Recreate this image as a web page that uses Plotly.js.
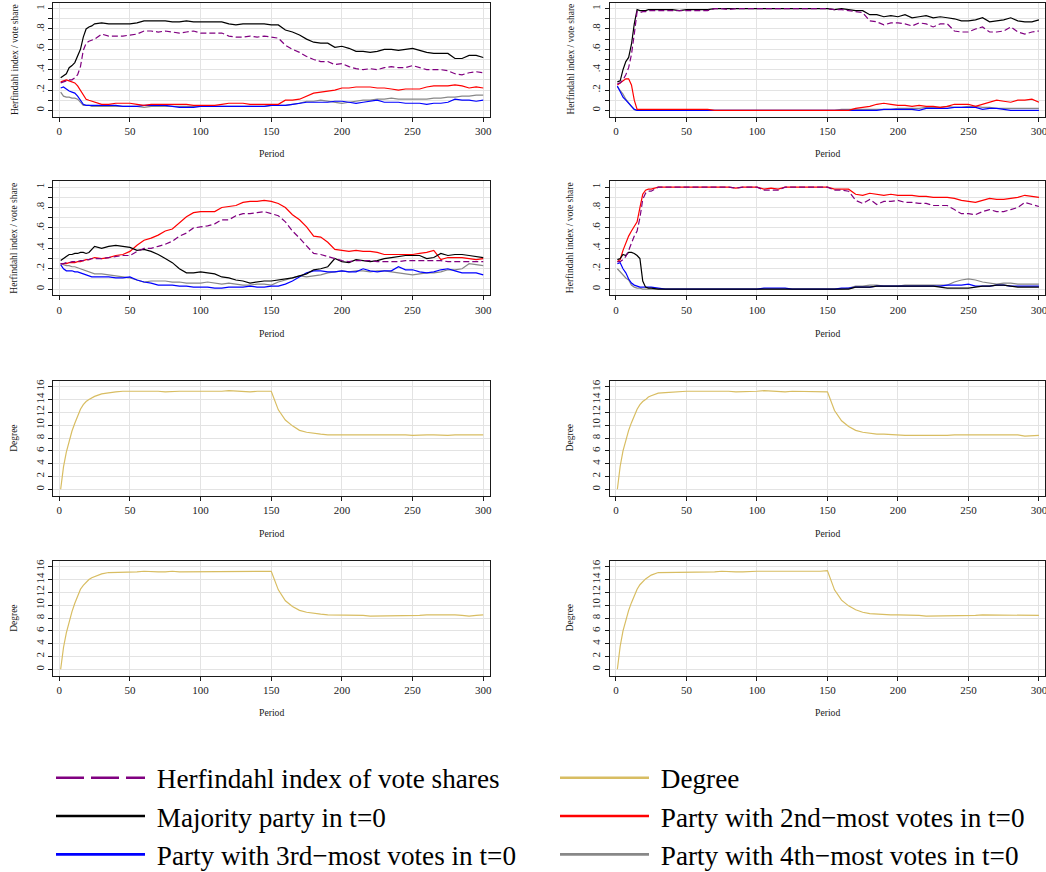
<!DOCTYPE html>
<html>
<head>
<meta charset="utf-8">
<script src="https://cdn.plot.ly/plotly-3.0.1.min.js"></script>
<style>html,body{margin:0;padding:0;background:#fff;}</style>
</head>
<body>
<div id="chart" style="width:1046px;height:872px;"></div>
<script>
// Simulation periods at which the series are recorded
const periods = [1,3,5,7,9,11,13,15,17,19,21,23,25,
  30,35,40,45,50,55,60,65,70,75,
  80,85,90,95,100,105,110,115,120,125,
  130,135,140,145,150,155,160,165,170,175,
  180,185,190,195,200,205,210,215,220,225,
  230,235,240,245,250,255,260,265,270,275,
  280,285,290,295,300];

// Run A: vote shares and Herfindahl index
const runA_herf = [.27,.28,.29,.30,.30,.32,.35,.43,.59,.66,.68,.69,.70,
  .75,.73,.73,.73,.74,.75,.78,.78,.77,.78,
  .77,.76,.77,.78,.76,.76,.76,.76,.73,.72,
  .72,.73,.72,.73,.72,.71,.64,.60,.57,.53,
  .50,.48,.48,.45,.46,.43,.41,.40,.41,.40,
  .42,.43,.42,.42,.44,.42,.40,.40,.40,.39,
  .36,.35,.37,.38,.37];
const runA_first = [.32,.34,.36,.42,.44,.47,.53,.60,.72,.80,.82,.83,.85,
  .86,.85,.85,.85,.85,.86,.88,.88,.88,.88,
  .87,.87,.88,.87,.87,.87,.87,.87,.85,.84,
  .85,.85,.85,.85,.84,.84,.79,.77,.74,.70,
  .67,.66,.66,.62,.63,.61,.58,.58,.57,.58,
  .60,.60,.59,.60,.61,.59,.57,.56,.56,.56,
  .51,.51,.54,.54,.52];
const runA_second = [.28,.29,.30,.29,.28,.27,.24,.20,.15,.11,.10,.09,.08,
  .06,.06,.07,.07,.07,.06,.05,.06,.06,.06,
  .06,.06,.06,.05,.05,.05,.05,.06,.07,.07,
  .07,.06,.06,.06,.06,.06,.10,.10,.11,.14,
  .17,.18,.19,.20,.22,.22,.23,.23,.23,.22,
  .22,.21,.20,.21,.21,.21,.23,.24,.24,.24,
  .25,.24,.22,.23,.22];
const runA_third = [.22,.23,.21,.19,.18,.17,.14,.10,.06,.05,.05,.05,.05,
  .05,.05,.05,.04,.04,.04,.05,.05,.05,.05,
  .04,.03,.03,.03,.04,.04,.04,.04,.04,.04,
  .04,.04,.04,.04,.05,.05,.05,.06,.07,.08,
  .08,.08,.08,.09,.09,.08,.07,.08,.09,.10,
  .08,.08,.08,.07,.07,.07,.06,.07,.07,.08,
  .11,.10,.10,.09,.10];
const runA_fourth = [.18,.14,.13,.13,.12,.12,.11,.08,.05,.05,.05,.04,.04,
  .04,.04,.04,.04,.04,.04,.03,.04,.04,.04,
  .04,.04,.04,.04,.04,.04,.04,.04,.04,.04,
  .04,.04,.04,.04,.05,.05,.05,.06,.07,.09,
  .09,.10,.09,.08,.07,.08,.09,.10,.10,.11,
  .11,.12,.11,.11,.11,.11,.11,.12,.12,.13,
  .13,.14,.14,.15,.15];

// Run B
const runB_herf = [.26,.27,.30,.35,.42,.55,.75,.97,.96,.97,.97,.98,.98,
  .98,.98,.98,.98,.98,.98,.98,.98,1.0,1.0,
  .99,1.0,1.0,1.0,1.0,1.0,1.0,1.0,1.0,1.0,
  1.0,1.0,1.0,1.0,1.0,.99,.99,.98,.97,.96,
  .88,.87,.84,.86,.86,.85,.83,.86,.85,.82,
  .85,.85,.78,.77,.77,.80,.82,.77,.77,.78,
  .82,.77,.75,.77,.78];
const runB_first = [.28,.29,.40,.48,.52,.65,.85,.99,.98,.98,.98,.99,.99,
  .99,.99,.99,.98,.99,.99,.99,.99,1.0,1.0,
  1.0,1.0,1.0,1.0,1.0,1.0,1.0,1.0,1.0,1.0,
  1.0,1.0,1.0,1.0,1.0,.99,1.0,.99,.98,.98,
  .94,.94,.92,.93,.92,.94,.91,.92,.93,.91,
  .92,.91,.90,.88,.88,.89,.91,.87,.88,.89,
  .91,.88,.87,.87,.89];
const runB_second = [.25,.27,.29,.31,.31,.25,.10,.01,.01,.01,.01,.01,.01,
  .01,.01,.01,.01,.01,.01,.01,.01,0,0,
  0,0,0,0,0,0,0,0,0,0,
  0,0,0,0,0,0,0,0,.02,.03,
  .04,.06,.07,.06,.05,.05,.04,.05,.04,.04,
  .03,.04,.06,.06,.06,.04,.06,.08,.10,.09,
  .08,.10,.10,.11,.08];
const runB_third = [.24,.19,.13,.10,.07,.04,.01,0,0,0,0,0,0,
  0,0,0,0,0,0,0,0,0,0,
  0,0,0,0,0,0,0,0,0,0,
  0,0,0,0,0,0,0,0,0,0,
  0,0,.01,.01,.01,.01,.01,0,.02,.02,
  .02,.02,.03,.03,.03,.03,.01,.02,.02,.01,
  0,0,0,0,0];
const runB_fourth = [.23,.20,.16,.11,.07,.04,.01,0,0,0,0,0,0,
  0,0,0,0,0,0,0,0,0,0,
  0,0,0,0,0,0,0,0,0,0,
  0,0,0,0,0,0,.01,.01,.01,.01,
  .01,.01,.01,.01,.02,.02,.02,.02,.03,.03,
  .03,.04,.03,.03,.04,.04,.03,.03,.02,.02,
  .02,.02,.02,.02,.02];

// Run C
const runC_herf = [.25,.25,.26,.26,.27,.27,.27,.28,.28,.29,.29,.30,.30,
  .30,.31,.32,.33,.33,.37,.40,.40,.42,.44,
  .47,.52,.55,.60,.61,.62,.64,.68,.68,.72,
  .74,.74,.75,.76,.74,.72,.66,.57,.50,.43,
  .35,.34,.32,.30,.28,.27,.28,.28,.28,.27,
  .27,.27,.27,.28,.28,.28,.28,.28,.28,.27,
  .27,.27,.27,.27,.27];
const runC_first = [.28,.30,.32,.34,.34,.35,.35,.36,.36,.35,.36,.39,.42,
  .40,.42,.43,.42,.41,.38,.39,.37,.34,.30,
  .26,.20,.16,.16,.17,.16,.15,.12,.11,.09,
  .08,.06,.07,.08,.08,.09,.10,.11,.13,.15,
  .19,.20,.22,.30,.27,.26,.29,.28,.27,.28,
  .30,.31,.32,.33,.33,.33,.30,.31,.35,.33,
  .34,.34,.33,.32,.31];
const runC_second = [.25,.25,.25,.26,.26,.26,.27,.27,.28,.29,.29,.30,.31,
  .30,.31,.33,.34,.37,.43,.48,.50,.53,.57,
  .59,.65,.71,.75,.76,.76,.76,.80,.81,.82,
  .85,.86,.86,.87,.86,.84,.80,.73,.68,.61,
  .52,.51,.46,.39,.38,.37,.38,.37,.37,.36,
  .34,.34,.34,.34,.34,.35,.36,.38,.29,.31,
  .31,.31,.30,.29,.30];
const runC_third = [.24,.20,.18,.18,.18,.17,.17,.16,.15,.14,.13,.12,.12,
  .12,.12,.11,.11,.12,.09,.07,.06,.04,.04,
  .04,.03,.03,.02,.02,.02,.01,.01,.02,.02,
  .02,.03,.02,.02,.03,.03,.05,.08,.12,.16,
  .18,.18,.17,.17,.18,.17,.17,.20,.18,.17,
  .18,.18,.22,.19,.19,.17,.16,.17,.19,.20,
  .18,.16,.16,.16,.14];
const runC_fourth = [.25,.24,.23,.23,.22,.22,.21,.20,.19,.18,.17,.16,.15,
  .15,.14,.13,.12,.11,.09,.07,.08,.08,.08,
  .07,.07,.06,.06,.06,.07,.06,.05,.06,.05,
  .04,.04,.05,.05,.04,.07,.09,.11,.13,.12,
  .13,.14,.16,.17,.18,.17,.18,.18,.17,.18,
  .18,.17,.16,.15,.14,.15,.16,.16,.17,.19,
  .19,.20,.25,.24,.23];

// Run D
const runD_herf = [.27,.27,.29,.32,.38,.45,.52,.57,.70,.88,.94,.96,.96,
  1.0,1.0,1.0,1.0,1.0,1.0,1.0,1.0,1.0,1.0,
  1.0,.99,1.0,1.0,1.0,.97,.97,.97,1.0,1.0,
  1.0,1.0,1.0,1.0,1.0,.97,.97,.96,.87,.84,
  .88,.83,.86,.86,.87,.85,.85,.84,.84,.82,
  .82,.82,.78,.74,.74,.73,.76,.78,.76,.76,
  .78,.80,.85,.83,.81];
const runD_first = [.29,.30,.34,.33,.36,.36,.35,.33,.30,.08,.02,.01,.01,
  0,0,0,0,0,0,0,0,0,0,
  0,0,0,0,0,0,0,0,0,0,
  0,0,0,0,0,0,0,0,.02,.02,
  .02,.03,.03,.03,.03,.03,.03,.03,.03,.03,
  .02,.01,.01,.01,.01,.02,.03,.03,.04,.04,
  .03,.02,.02,.02,.02];
const runD_second = [.27,.29,.38,.45,.52,.57,.61,.66,.80,.93,.97,.98,.98,
  1.0,1.0,1.0,1.0,1.0,1.0,1.0,1.0,1.0,1.0,
  1.0,.99,1.0,1.0,1.0,.98,.99,.98,1.0,1.0,
  1.0,1.0,1.0,1.0,1.0,.98,.98,.98,.93,.92,
  .94,.93,.92,.93,.92,.92,.92,.91,.91,.90,
  .90,.90,.89,.87,.86,.85,.87,.89,.88,.88,
  .89,.90,.92,.91,.90];
const runD_third = [.25,.26,.20,.16,.10,.06,.04,.03,.02,.02,.02,.02,.02,
  .01,0,0,0,0,0,0,0,0,0,
  0,0,0,0,0,.01,.01,.01,.01,0,
  0,0,0,0,0,0,.01,.01,.02,.02,
  .02,.03,.03,.03,.03,.03,.03,.03,.03,.03,
  .03,.04,.04,.04,.05,.03,.03,.03,.04,.04,
  .03,.03,.03,.03,.03];
const runD_fourth = [.20,.17,.13,.11,.09,.04,.02,.01,.01,0,0,0,0,
  0,0,0,0,0,0,0,0,0,0,
  0,0,0,0,0,0,0,0,0,0,
  0,0,0,0,0,0,0,.01,.03,.03,
  .04,.04,.03,.03,.03,.04,.04,.04,.04,.04,
  .04,.04,.07,.09,.10,.09,.07,.06,.05,.06,
  .06,.05,.05,.05,.05];

// Average network degree, one series per run
const degreeA = [0,3.5,5.8,7.7,9.1,10.3,11.5,12.5,13.2,13.7,14.0,14.3,14.5,
  14.9,15.1,15.2,15.3,15.3,15.3,15.4,15.4,15.3,15.2,
  15.3,15.3,15.3,15.3,15.2,15.3,15.3,15.3,15.4,15.3,
  15.2,15.2,15.3,15.3,15.3,12.4,10.8,9.9,9.2,8.9,
  8.7,8.6,8.5,8.5,8.5,8.5,8.5,8.5,8.6,8.5,
  8.5,8.5,8.5,8.5,8.4,8.5,8.5,8.5,8.4,8.4,
  8.5,8.5,8.5,8.5,8.5];
const degreeB = [0,3.6,6.0,7.8,9.2,10.4,11.6,12.5,13.2,13.7,14.0,14.4,14.6,
  15.0,15.1,15.2,15.2,15.3,15.3,15.3,15.3,15.4,15.3,
  15.3,15.2,15.2,15.3,15.3,15.4,15.3,15.3,15.2,15.3,
  15.3,15.3,15.3,15.3,15.2,12.3,10.7,9.8,9.2,8.9,
  8.7,8.6,8.6,8.5,8.5,8.4,8.4,8.4,8.3,8.4,
  8.4,8.4,8.5,8.5,8.4,8.4,8.4,8.4,8.4,8.4,
  8.4,8.5,8.3,8.3,8.4];
const degreeC = [0,3.4,5.7,7.6,9.0,10.3,11.5,12.5,13.1,13.6,14.0,14.3,14.5,
  14.9,15.1,15.1,15.2,15.2,15.2,15.3,15.2,15.2,15.2,
  15.3,15.2,15.2,15.2,15.2,15.2,15.2,15.3,15.2,15.2,
  15.2,15.3,15.3,15.3,15.3,12.4,10.7,9.8,9.2,8.9,
  8.7,8.6,8.5,8.5,8.4,8.4,8.5,8.4,8.3,8.3,
  8.3,8.3,8.3,8.4,8.4,8.4,8.5,8.5,8.6,8.5,
  8.5,8.4,8.3,8.4,8.5];
const degreeD = [0,3.6,6.0,7.8,9.2,10.4,11.6,12.5,13.2,13.7,14.1,14.4,14.7,
  15.1,15.1,15.2,15.1,15.1,15.1,15.2,15.2,15.2,15.3,
  15.2,15.2,15.2,15.3,15.3,15.3,15.3,15.2,15.3,15.3,
  15.3,15.2,15.3,15.3,15.4,12.4,10.8,9.9,9.3,8.9,
  8.7,8.6,8.5,8.5,8.5,8.5,8.4,8.4,8.3,8.3,
  8.3,8.3,8.4,8.4,8.3,8.4,8.5,8.5,8.5,8.4,
  8.5,8.4,8.4,8.4,8.4];

// Axis ticks
const periodTicks = [0,50,100,150,200,250,300];
const shareTicks = [0,0.2,0.4,0.6,0.8,1];
const shareTickText = ['0','.2','.4','.6','.8','1'];
const shareMinor = [0.1,0.3,0.5,0.7,0.9];
const degreeTicks = [0,2,4,6,8,10,12,14,16];

// Series names and colours
const seriesNames = {
  herf: 'Herfindahl index of vote shares',
  degree: 'Degree',
  first: 'Majority party in t=0',
  second: 'Party with 2nd\u2212most votes in t=0',
  third: 'Party with 3rd\u2212most votes in t=0',
  fourth: 'Party with 4th\u2212most votes in t=0'
};
const colors = {
  herf: '#800080', degree: '#d8bd62', first: '#000000',
  second: '#ff0000', third: '#0000ff', fourth: '#888888'
};

const shareRuns = [
  {herf: runA_herf, first: runA_first, second: runA_second, third: runA_third, fourth: runA_fourth},
  {herf: runB_herf, first: runB_first, second: runB_second, third: runB_third, fourth: runB_fourth},
  {herf: runC_herf, first: runC_first, second: runC_second, third: runC_third, fourth: runC_fourth},
  {herf: runD_herf, first: runD_first, second: runD_second, third: runD_third, fourth: runD_fourth}
];
const degreeRuns = [degreeA, degreeB, degreeC, degreeD];

// Page geometry (pixels)
const W = 1046, H = 872;
const fx = p => p / W;
const fy = p => 1 - p / H;
const cols = [{l: 52.9, r: 489.6, mid: 271.3, ytitle: 14.5},
              {l: 609.6, r: 1045.3, mid: 827.5, ytitle: 570}];
const rows = [{t: 2.5, b: 116.5, lab: 153.5},
              {t: 181, b: 295.3, lab: 333.5},
              {t: 381, b: 495.7, lab: 533},
              {t: 561, b: 675.7, lab: 712.5}];

const FONT = 'Liberation Serif, Times New Roman, serif';
const INK = '#1a1a1a';
const GRID = '#e3e3e3';

const traces = [];
const layout = {
  width: W, height: H,
  margin: {l: 0, r: 0, t: 0, b: 0, autoexpand: false},
  paper_bgcolor: '#ffffff', plot_bgcolor: '#ffffff',
  font: {family: FONT, color: INK},
  showlegend: true,
  annotations: [],
  legend: {
    orientation: 'h', x: fx(51), y: fy(753.5), xanchor: 'left', yanchor: 'top',
    font: {family: FONT, size: 27.2, color: '#000'},
    itemwidth: 89, entrywidth: 400, entrywidthmode: 'pixels',
    bgcolor: 'rgba(0,0,0,0)', itemclick: false, itemdoubleclick: false,
    traceorder: 'normal'
  }
};

function xAxisDef(col, yId) {
  return {
    domain: [fx(cols[col].l), fx(cols[col].r)], anchor: yId,
    range: [-4.5, 304.5], tickvals: periodTicks, ticks: 'outside', ticklen: 4,
    tickcolor: INK, tickfont: {family: FONT, size: 11, color: INK},
    ticklabeloverflow: 'allow',
    showgrid: true, gridcolor: GRID, gridwidth: 1, zeroline: false,
    showline: true, mirror: true, linecolor: INK, linewidth: 1, fixedrange: true
  };
}
function yAxisDef(row, xId, isDegree) {
  const base = {
    domain: [fy(rows[row].b), fy(rows[row].t)], anchor: xId,
    ticks: 'outside', ticklen: 4, tickcolor: INK, tickangle: -90,
    tickfont: {family: FONT, size: 11, color: INK},
    showgrid: true, gridcolor: GRID, gridwidth: 1, zeroline: false,
    showline: true, mirror: true, linecolor: INK, linewidth: 1, fixedrange: true
  };
  if (isDegree) {
    base.range = [-1.0, 16.9];
    base.tickvals = degreeTicks;
  } else {
    base.range = [-0.06, 1.06];
    base.tickvals = shareTicks;
    base.ticktext = shareTickText;
    base.minor = {tickvals: shareMinor, ticks: 'outside', ticklen: 4, tickcolor: INK,
                  showgrid: true, gridcolor: GRID, gridwidth: 1};
  }
  return base;
}

function addPanel(idx, row, col, isDegree) {
  const n = idx + 1;
  const xId = n === 1 ? 'x' : 'x' + n;
  const yId = n === 1 ? 'y' : 'y' + n;
  layout[n === 1 ? 'xaxis' : 'xaxis' + n] = xAxisDef(col, yId);
  layout[n === 1 ? 'yaxis' : 'yaxis' + n] = yAxisDef(row, xId, isDegree);

  layout.annotations.push({
    text: 'Period', xref: 'paper', yref: 'paper', showarrow: false,
    x: fx(cols[col].mid), y: fy(rows[row].lab), xanchor: 'center', yanchor: 'middle',
    font: {family: FONT, size: 9.7, color: INK}
  });
  layout.annotations.push({
    text: isDegree ? 'Degree' : 'Herfindahl index / vote share',
    xref: 'paper', yref: 'paper', showarrow: false, textangle: -90,
    x: fx(cols[col].ytitle), y: fy((rows[row].t + rows[row].b) / 2),
    xanchor: 'center', yanchor: 'middle',
    font: {family: FONT, size: 9.5, color: INK}
  });
  return {xId, yId};
}

// Vote-share panels (top two rows)
shareRuns.forEach((run, i) => {
  const {xId, yId} = addPanel(i, Math.floor(i / 2), i % 2, false);
  ['fourth', 'third', 'second', 'first', 'herf'].forEach(key => {
    traces.push({
      type: 'scatter', mode: 'lines', x: periods, y: run[key],
      xaxis: xId, yaxis: yId, name: seriesNames[key], showlegend: false,
      line: {color: colors[key], width: 1.2, dash: key === 'herf' ? '6px,3px' : 'solid'},
      hoverinfo: 'skip'
    });
  });
});

// Degree panels (bottom two rows)
degreeRuns.forEach((deg, i) => {
  const {xId, yId} = addPanel(i + 4, 2 + Math.floor(i / 2), i % 2, true);
  traces.push({
    type: 'scatter', mode: 'lines', x: periods, y: deg,
    xaxis: xId, yaxis: yId, name: seriesNames.degree, showlegend: false,
    line: {color: colors.degree, width: 1.2}, hoverinfo: 'skip'
  });
});

// Legend keys
['herf', 'degree', 'first', 'second', 'third', 'fourth'].forEach(key => {
  traces.push({
    type: 'scatter', mode: 'lines', x: [null], y: [null], xaxis: 'x', yaxis: 'y',
    name: '\u00a0' + seriesNames[key], showlegend: true, hoverinfo: 'skip',
    line: {color: colors[key], width: 2.6, dash: key === 'herf' ? '28px,7px' : 'solid'}
  });
});

Plotly.newPlot('chart', traces, layout, {staticPlot: true, displayModeBar: false});
</script>
</body>
</html>
